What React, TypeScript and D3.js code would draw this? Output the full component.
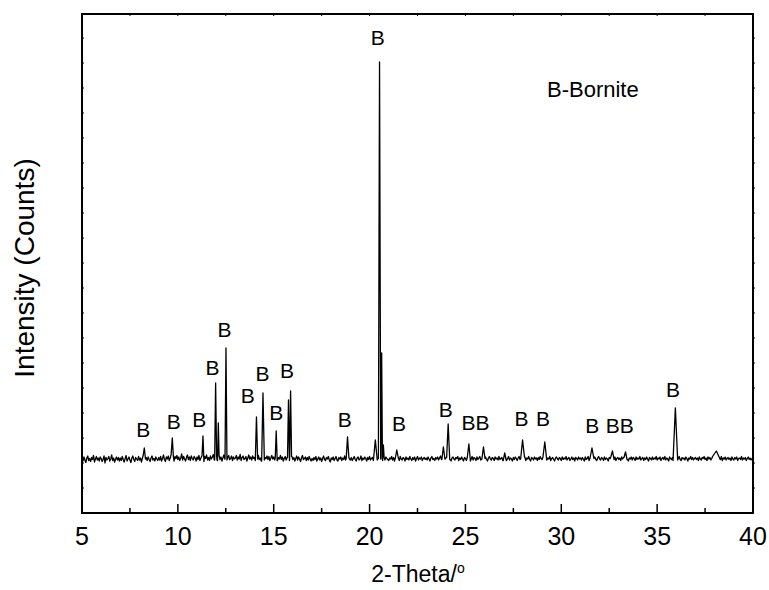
import React from 'react';
import * as d3 from 'd3';

// Background counts sampled every 0.05 degree from 5.00 to 40.00 (2-theta)
const bgStart = 5;
const bgStep = 0.05;
const background = [
  108,104,112,106,101,110,114,105,109,103,111,107,115,102,108,113,106,110,104,112,
  109,103,107,114,100,111,106,109,113,104,108,116,105,110,102,107,112,106,111,104,
  110,105,113,107,102,109,115,104,108,112,106,101,110,114,107,103,111,108,105,113,
  106,110,102,109,115,104,108,111,105,112,107,103,110,114,106,109,104,112,108,105,
  111,106,113,104,109,116,107,103,112,108,114,105,110,117,106,111,104,113,109,115,
  107,112,105,110,118,106,113,108,104,111,116,107,112,105,114,109,106,113,110,104,
  112,107,115,105,110,114,108,103,113,109,116,106,111,105,114,108,112,117,106,110,
  113,105,109,115,107,112,104,110,116,108,113,106,111,115,107,109,114,105,112,108,
  110,115,106,112,108,117,105,111,114,107,109,113,104,110,116,108,112,106,114,109,
  111,105,113,108,115,107,110,104,112,116,106,111,109,114,107,113,105,110,115,108,
  112,106,110,114,105,111,108,115,107,112,104,109,113,106,111,116,105,110,108,113,
  107,111,104,109,114,106,112,108,103,110,115,107,109,112,105,111,106,113,108,104,
  109,105,111,107,113,104,108,112,106,110,103,109,114,107,105,111,108,113,106,102,
  110,107,112,105,109,113,106,104,111,108,112,105,110,107,114,106,109,103,111,108,
  106,111,105,109,113,107,104,110,112,106,108,114,105,110,107,112,109,104,111,107,
  113,106,109,111,105,110,108,112,106,109,107,113,108,111,105,110,106,112,109,107,
  105,110,108,113,106,111,104,109,112,107,110,105,113,108,106,111,109,104,112,107,
  110,106,113,108,105,111,107,112,104,109,113,106,110,108,112,105,109,111,107,110,
  106,112,108,104,110,113,107,109,105,111,108,112,106,110,114,107,109,105,112,108,
  111,106,109,113,107,104,110,112,108,106,111,109,113,105,110,107,112,108,104,111,
  109,105,112,107,110,104,108,113,106,111,109,105,112,107,110,113,106,108,111,105,
  109,112,107,104,110,113,108,106,111,109,105,112,108,110,106,113,107,109,111,105,
  110,107,112,105,109,113,106,110,108,104,111,107,112,109,105,110,113,107,108,111,
  106,109,112,105,110,108,113,107,104,111,109,106,112,108,110,105,111,107,113,109,
  107,111,105,109,112,106,110,108,113,105,109,111,107,104,110,112,108,106,111,109,
  105,112,107,110,108,113,106,109,111,105,108,112,107,110,104,111,109,106,112,108,
  110,106,111,108,104,112,107,109,113,105,110,108,111,106,109,112,107,105,110,113,
  108,106,111,109,105,112,107,110,108,104,111,109,113,106,110,107,112,105,109,111,
  107,110,105,112,108,111,106,109,113,107,104,110,108,112,106,111,109,105,112,107,
  110,108,113,106,109,111,105,110,107,112,108,104,111,109,106,112,107,110,108,113,
  106,110,108,112,105,109,111,107,113,106,110,108,104,112,109,107,111,105,110,108,
  112,106,109,113,107,105,111,108,110,106,112,109,104,110,108,113,107,111,106,109,
  111,107,110,105,112,108,106,111,109,113,107,110,105,112,108,111,106,109,113,107,
  110,108,112,106,109,111,107,113,105,110,108,112,106,109,111,107,110,105,112,108,
  106,111,108,112,105,109,110,107,113,106,110,108,111,105,109,112,107,110,106,109,108,
];

// Diffraction peaks: position (deg), peak counts, half width (deg)
const peakPos = [8.25, 9.71, 11.31, 11.97, 12.11, 12.51, 14.10, 14.44, 15.13, 15.77, 15.88, 18.85, 20.30, 20.52, 20.63, 20.72, 21.42, 23.85, 24.10, 25.18, 25.94, 27.05, 27.98, 29.14, 31.60, 32.67, 33.35, 35.95, 38.09];
const peakTop = [130, 150, 154, 260, 180, 330, 192, 240, 164, 226, 244, 152, 146, 902, 320, 136, 126, 132, 178, 138, 132, 120, 146, 142, 130, 124, 122, 210, 124];
const peakHalfWidth = [0.06, 0.06, 0.05, 0.05, 0.04, 0.05, 0.06, 0.07, 0.05, 0.05, 0.05, 0.07, 0.1, 0.06, 0.04, 0.04, 0.08, 0.08, 0.08, 0.08, 0.08, 0.08, 0.1, 0.1, 0.1, 0.08, 0.08, 0.12, 0.2];

// Phase labels: text, position (deg), level (counts)
const labelText = ['B', 'B', 'B', 'B', 'B', 'B', 'B', 'B', 'B', 'B', 'B', 'B', 'B', 'BB', 'B', 'B', 'B', 'BB', 'B'];
const labelPos = [8.20, 9.78, 11.12, 11.81, 12.43, 13.64, 14.42, 15.13, 15.69, 18.71, 20.43, 21.53, 23.98, 25.53, 27.92, 29.05, 31.61, 33.05, 35.83];
const labelLevel = [153, 169, 172, 276, 353, 220, 264, 187, 270, 173, 937, 165, 192, 167, 175, 175, 160, 160, 232];

const xMajorTicks = [5, 10, 15, 20, 25, 30, 35, 40];
const xMinorTicks = [7.5, 12.5, 17.5, 22.5, 27.5, 32.5, 37.5];
const yTicks = [50, 100, 150, 200, 250, 300, 350, 400, 450, 500, 550, 600, 650, 700, 750, 800, 850, 900, 950];
const legendText = 'B-Bornite';
const xTitle = '2-Theta/';
const yTitle = 'Intensity (Counts)';

const W = 769;
const H = 590;
const left = 82, right = 753, top = 14, bottom = 513;
const FONT = '"Liberation Sans", Arial, sans-serif';

export default function App() {
  const x = d3.scaleLinear().domain([5, 40]).range([left, right]);
  const y = d3.scaleLinear().domain([0, 998]).range([bottom, top]);

  const bgAt = (t: number) => {
    const i = Math.max(0, Math.min(background.length - 1, Math.round((t - bgStart) / bgStep)));
    return background[i];
  };

  const pts: [number, number][] = [];
  background.forEach((c, i) => {
    const t = bgStart + i * bgStep;
    const inside = peakPos.some((p, k) => Math.abs(t - p) < peakHalfWidth[k]);
    if (!inside) pts.push([t, c]);
  });
  peakPos.forEach((p, k) => {
    const hw = peakHalfWidth[k];
    pts.push([p - hw, bgAt(p - hw)]);
    pts.push([p, peakTop[k]]);
    pts.push([p + hw, bgAt(p + hw)]);
  });
  pts.sort((a, b) => a[0] - b[0]);

  const line = d3.line<[number, number]>().x(d => x(d[0])).y(d => y(d[1]));

  return (
    <svg width={W} height={H} style={{ position: 'absolute', left: 0, top: 0, background: '#fff' }}>
      <rect x={0} y={0} width={W} height={H} fill="#fff" />
      <path d={line(pts) || ''} fill="none" stroke="#000" strokeWidth={1.3} strokeLinejoin="round" />
      {/* frame */}
      <rect x={left} y={top} width={right - left} height={bottom - top} fill="none" stroke="#000" strokeWidth={2} />
      {/* bottom ticks */}
      {xMajorTicks.map(t => (
        <line key={'M' + t} x1={x(t)} x2={x(t)} y1={bottom} y2={bottom - 9} stroke="#000" strokeWidth={1.5} />
      ))}
      {xMinorTicks.map(t => (
        <line key={'m' + t} x1={x(t)} x2={x(t)} y1={bottom} y2={bottom - 5} stroke="#000" strokeWidth={1.5} />
      ))}
      {/* top ticks */}
      {[...xMajorTicks, ...xMinorTicks].map(t => (
        <line key={'T' + t} x1={x(t)} x2={x(t)} y1={top} y2={top + 2} stroke="#000" strokeWidth={1} />
      ))}
      {/* left/right ticks */}
      {yTicks.map(v => (
        <g key={'y' + v}>
          <line x1={left} x2={left + 2} y1={y(v)} y2={y(v)} stroke="#000" strokeWidth={1} />
          <line x1={right} x2={right + 2} y1={y(v)} y2={y(v)} stroke="#000" strokeWidth={1} />
        </g>
      ))}
      {/* tick labels */}
      {xMajorTicks.map(t => (
        <text key={'L' + t} x={x(t)} y={545} textAnchor="middle" fontFamily={FONT} fontSize={25} fill="#000">{t}</text>
      ))}
      {/* x title */}
      <text x={418} y={582} textAnchor="middle" fontFamily={FONT} fontSize={23} fill="#000">
        {xTitle}<tspan fontSize={14} dy={-9}>o</tspan>
      </text>
      {/* y title */}
      <text transform={`translate(34,268) rotate(-90)`} textAnchor="middle" fontFamily={FONT} fontSize={28} fill="#000">{yTitle}</text>
      {/* labels */}
      {labelText.map((s, i) => (
        <text key={'b' + i} x={x(labelPos[i])} y={y(labelLevel[i])} textAnchor="middle" fontFamily={FONT} fontSize={21} fill="#000">{s}</text>
      ))}
      <text x={547} y={97} textAnchor="start" fontFamily={FONT} fontSize={22} fill="#000">{legendText}</text>
    </svg>
  );
}
